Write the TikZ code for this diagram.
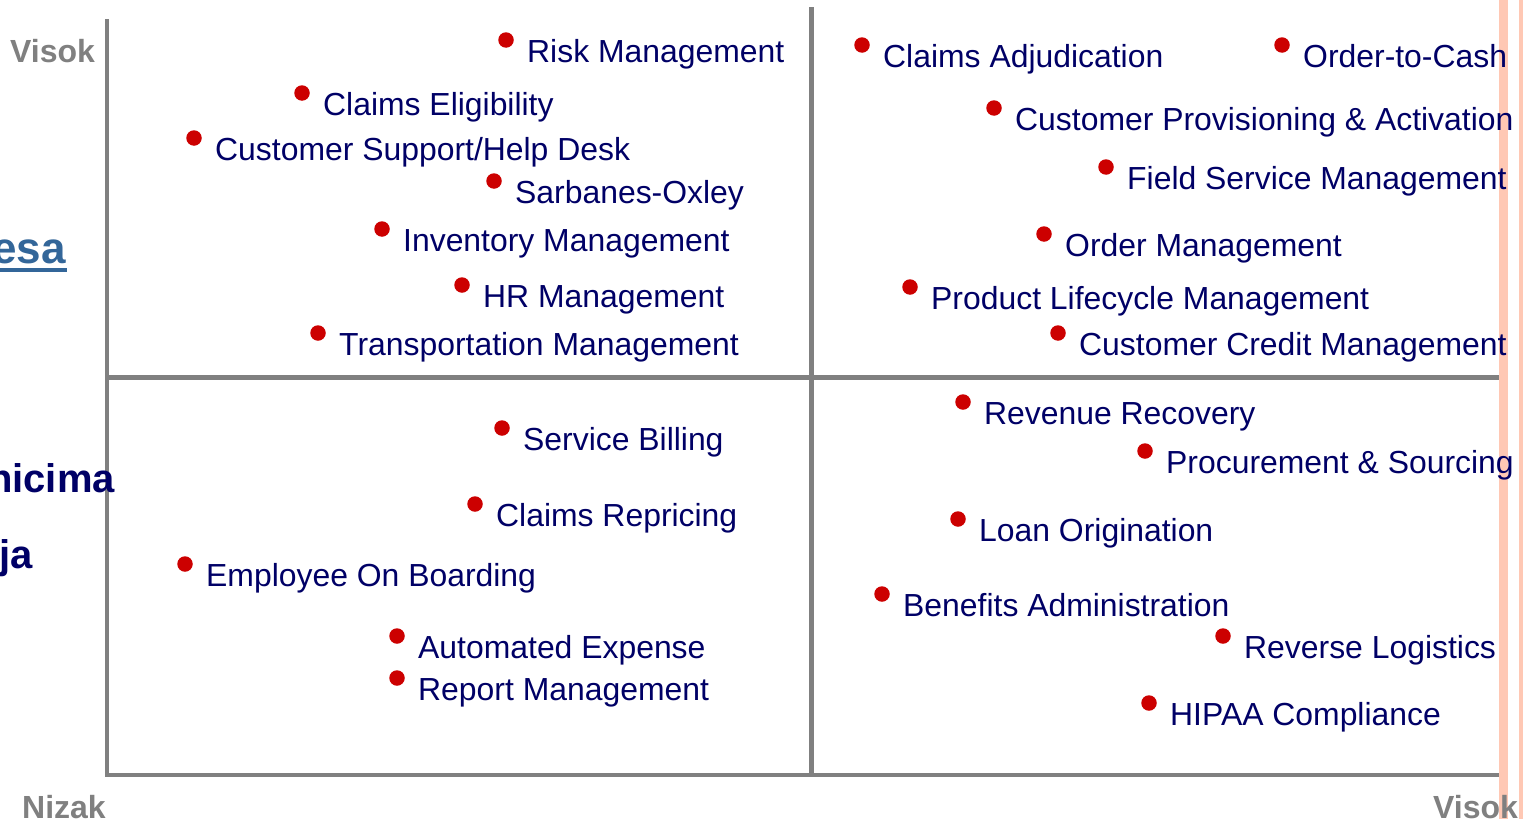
\documentclass[tikz,border=0pt]{standalone}
\usepackage{fontspec}
\setmainfont{Liberation Sans}
\definecolor{navy}{HTML}{000066}
\definecolor{dotred}{HTML}{CC0000}
\definecolor{axisgrey}{HTML}{808080}
\definecolor{bandpink}{HTML}{FFC8B4}
\definecolor{titleblue}{HTML}{336699}
\begin{document}
\begin{tikzpicture}[x=1pt,y=-1pt,
  dot/.style={circle,fill=dotred,inner sep=0,minimum size=15.5pt},
  item/.style={anchor=base west,inner sep=0,text=navy,font=\fontsize{31.9}{36}\selectfont},
  axis/.style={draw=axisgrey,line width=4.5pt},
  axlabel/.style={inner sep=0,text=axisgrey,font=\fontsize{32}{36}\selectfont\bfseries},
  sidelabel/.style={anchor=base east,inner sep=0,font=\fontsize{40}{46}\selectfont\bfseries}]
\useasboundingbox (0,0) rectangle (1523,819);
\clip (0,0) rectangle (1523,819);
% pink bands at right edge
\fill[bandpink] (1499,0) rectangle (1508,819);
\fill[bandpink] (1519,0) rectangle (1523,819);
% axes
\coordinate (ltop) at (107,19);
\coordinate (origin) at (107,775);
\coordinate (bend) at (1499,775);
\coordinate (mtop) at (811.5,7);
\coordinate (mbot) at (811.5,773);
\coordinate (hl) at (107,377.5);
\coordinate (hr) at (1499,377.5);
\draw[axis] (ltop) -- (origin) -- (bend);
\draw[axis] (mtop) -- (mbot);
\draw[axis] (hl) -- (hr);
% axis labels
\node[axlabel,anchor=base west] (vtop) at (10,62) {Visok};
\node[axlabel,anchor=base west] (nizak) at (22,818) {Nizak};
\node[axlabel,anchor=base west] (vright) at (1433,818) {Visok};
% clipped side labels
\node[sidelabel,text=titleblue,font=\fontsize{44}{50}\selectfont\bfseries] (esa) at (66,263) {esa};
\draw[titleblue,line width=4pt] (0,270) -- (67,270);
\node[sidelabel,text=navy] (nicima) at (115,492) {nicima};
\node[sidelabel,text=navy] (ja) at (33,568) {ja};
% items
\foreach \n/\x/\y/\t in {
  risk/506/40/{Risk Management},
  elig/302/93/{Claims Eligibility},
  help/194/138/{Customer Support/Help Desk},
  sox/494/181/{Sarbanes-Oxley},
  inv/382/229/{Inventory Management},
  hr/462/285/{HR Management},
  trans/318/333/{Transportation Management},
  adj/862/45/{Claims Adjudication},
  otc/1282/45/{Order-to-Cash},
  prov/994/108/{Customer Provisioning \& Activation},
  field/1106/167/{Field Service Management},
  order/1044/234/{Order Management},
  plm/910/287/{Product Lifecycle Management},
  credit/1058/333/{Customer Credit Management},
  bill/502/428/{Service Billing},
  repr/475/504/{Claims Repricing},
  onb/185/564/{Employee On Boarding},
  exp/397/636/{Automated Expense},
  rep/397/678/{Report Management},
  rev/963/402/{Revenue Recovery},
  proc/1145/451/{Procurement \& Sourcing},
  loan/958/519/{Loan Origination},
  ben/882/594/{Benefits Administration},
  rl/1223/636/{Reverse Logistics},
  hipaa/1149/703/{HIPAA Compliance}} {
  \node[dot] (d\n) at (\x,\y) {};
  \node[item] (t\n) at (\x+21,\y+22.5) {\t};
}
\end{tikzpicture}
\end{document}
